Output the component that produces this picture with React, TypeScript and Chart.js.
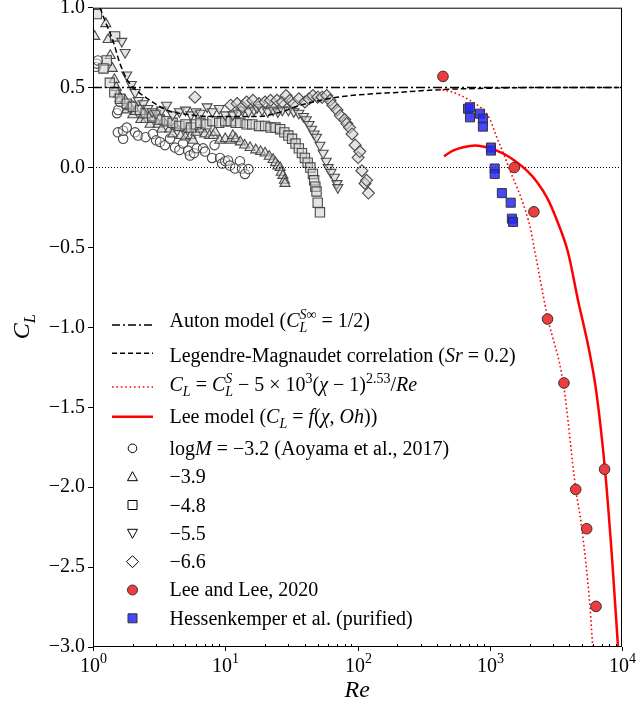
import React, { useEffect, useRef } from "react";
import { Chart, registerables } from "chart.js";

Chart.register(...registerables);

type Pt = [number, number];

// ---------------- data ----------------
const autonRe = [1, 10000];
const autonCL = [0.5, 0.5];

const zeroRe = [1, 10000];
const zeroCL = [0, 0];

const lmRe = [1.13, 1.23, 1.42, 1.6, 1.84, 2.15, 2.7, 3.6, 5.4, 8, 11, 18, 27, 37, 52, 70, 124, 200, 300, 500, 843, 2000, 10000];
const lmCL = [1.0, 0.92, 0.79, 0.65, 0.54, 0.48, 0.42, 0.36, 0.33, 0.32, 0.32, 0.32, 0.35, 0.39, 0.42, 0.44, 0.46, 0.47, 0.48, 0.49, 0.495, 0.5, 0.5];

const corrRe = [408, 531, 709, 894, 1005, 1129, 1268, 1423, 1599, 1795, 2015, 2198, 2743, 3598, 4467, 4955, 5730, 6000];
const corrCL = [0.49, 0.47, 0.42, 0.36, 0.3, 0.19, 0.09, -0.02, -0.12, -0.23, -0.37, -0.53, -0.94, -1.35, -2.01, -2.25, -2.75, -3.0];

const leeModelRe = [451, 527, 630, 773, 946, 1129, 1346, 1599, 1910, 2275, 2717, 3220, 3906, 4649, 5630, 6360, 7437, 8402, 9328];
const leeModelCL = [0.07, 0.106, 0.127, 0.1375, 0.127, 0.106, 0.075, 0.033, -0.02, -0.09, -0.19, -0.33, -0.53, -0.83, -1.14, -1.39, -1.89, -2.44, -3.0];

const leeLeeRe = [443, 1534, 2157, 2735, 3640, 4467, 5408, 6360, 7384];
const leeLeeCL = [0.57, 0.0, -0.277, -0.948, -1.348, -2.014, -2.26, -2.746, -1.8875];

const hessRe = [685, 709, 709, 844, 888, 888, 1022, 1022, 1090, 1090, 1235, 1440, 1470, 1500];
const hessCL = [0.368, 0.377, 0.314, 0.337, 0.306, 0.256, 0.125, 0.106, -0.006, -0.04, -0.16, -0.22, -0.32, -0.34];

const aoyamaM32: Pt[] = [
  [1.05, 0.63], [1.07, 0.65], [1.09, 0.67], [1.52, 0.34], [1.55, 0.36], [1.6, 0.41], [1.94, 0.39],
  [1.54, 0.22], [1.69, 0.18], [1.69, 0.23], [1.8, 0.25], [2.08, 0.22], [2.19, 0.2], [2.5, 0.19],
  [2.84, 0.21], [3.0, 0.17], [3.21, 0.16], [3.5, 0.14], [3.82, 0.18], [4.17, 0.125], [4.5, 0.11],
  [4.8, 0.15], [5.23, 0.106], [5.41, 0.075], [5.8, 0.09], [6.1, 0.12], [6.8, 0.12], [7.03, 0.1],
  [7.95, 0.06], [8.3, 0.14], [9.13, 0.06], [9.46, 0.025], [10.0, 0.04], [10.5, 0.044], [10.86, 0.0125],
  [11.85, -0.006], [12.9, 0.04], [13.4, -0.006], [14.1, -0.04], [15.0, -0.01],
];

const aoyamaM39: Pt[] = [
  [1.03, 0.82], [1.25, 0.9], [1.3, 0.8], [1.35, 0.7], [1.4, 0.62], [1.45, 0.55], [1.5, 0.5], [1.55, 0.46],
  [1.6, 0.43], [1.75, 0.42], [1.8, 0.36], [1.9, 0.38], [2.0, 0.33], [2.1, 0.35], [2.3, 0.3], [2.4, 0.33],
  [2.5, 0.3], [2.7, 0.27], [2.8, 0.3], [3.1, 0.27], [3.3, 0.24], [3.4, 0.29], [3.8, 0.24], [4.0, 0.21],
  [4.2, 0.26], [4.6, 0.2], [5.0, 0.19], [5.2, 0.24], [5.5, 0.2], [5.7, 0.17], [6.0, 0.22], [6.5, 0.24],
  [7.0, 0.21], [7.6, 0.2], [8.1, 0.2], [8.4, 0.22], [9.1, 0.17], [10, 0.18], [11, 0.17], [11.4, 0.2],
  [12, 0.18], [13, 0.16], [14, 0.14], [15.4, 0.125], [17, 0.11], [18.5, 0.1], [20, 0.09], [21.5, 0.07],
  [23, 0.05], [24, 0.03], [25, 0.01], [26, 0], [26.5, -0.03], [27.3, -0.05], [28, -0.08], [28.3, -0.1],
];

const aoyamaM48: Pt[] = [
  [1.07, 0.96], [1.47, 0.82], [1.27, 0.67], [1.2, 0.62], [1.34, 0.53], [1.45, 0.47], [1.6, 0.43], [1.8, 0.4],
  [2.0, 0.38], [2.27, 0.36], [2.5, 0.34], [2.8, 0.32], [3.2, 0.3], [3.6, 0.29], [4.0, 0.28], [4.5, 0.26],
  [5.0, 0.27], [5.5, 0.25], [6.0, 0.27], [6.5, 0.28], [7.2, 0.27], [8, 0.29], [9, 0.28], [10, 0.29],
  [11, 0.29], [12, 0.28], [13, 0.28], [14.5, 0.27], [16, 0.27], [18, 0.26], [20, 0.26], [22, 0.25],
  [24, 0.25], [26, 0.24], [28, 0.22], [30, 0.2], [32, 0.18], [34, 0.15], [36, 0.12], [38, 0.09],
  [40, 0.06], [42, 0.03], [44, 0], [46, -0.04], [47, -0.08], [48, -0.12], [49, -0.15], [50, -0.22], [52, -0.28],
];

const aoyamaM55: Pt[] = [
  [1.65, 0.79], [1.75, 0.72], [1.8, 0.58], [1.95, 0.52], [2.08, 0.47], [2.2, 0.42], [2.4, 0.4], [2.6, 0.37],
  [2.8, 0.35], [3.0, 0.34], [3.3, 0.36], [3.6, 0.39], [4.0, 0.33], [4.5, 0.35], [5.0, 0.36], [5.5, 0.33],
  [6.0, 0.35], [6.5, 0.34], [7.3, 0.38], [8.0, 0.35], [9, 0.37], [10, 0.33], [11.4, 0.33], [12.5, 0.34],
  [13.5, 0.36], [15, 0.35], [16.5, 0.36], [17.4, 0.375], [19, 0.36], [21, 0.35], [23, 0.36], [25, 0.35],
  [27, 0.36], [30, 0.36], [33, 0.35], [36, 0.34], [39, 0.32], [41, 0.3], [43, 0.27], [45, 0.24],
  [47, 0.21], [49, 0.19], [52, 0.14], [55, 0.09], [58, 0.04], [60, 0], [63, -0.03], [67, -0.06], [70, -0.1], [71, -0.125],
];

const aoyamaM66: Pt[] = [
  [5.9, 0.44], [11, 0.39], [12.3, 0.4], [13.5, 0.38], [14.5, 0.41], [16.2, 0.42], [18, 0.4], [20, 0.41],
  [22, 0.42], [24.6, 0.42], [27, 0.41], [28.8, 0.45], [30.8, 0.42], [33, 0.4], [36, 0.43], [40, 0.41],
  [43, 0.43], [46, 0.45], [50, 0.44], [54, 0.44], [58.5, 0.45], [62, 0.42], [65, 0.39], [70, 0.36],
  [74, 0.325], [80, 0.3], [83, 0.275], [87, 0.25], [91, 0.21], [96, 0.14], [101, 0.0625], [104, 0.1],
  [108, -0.02], [114, -0.1], [117, -0.08], [121, -0.16],
];

const xDecades = [0, 1, 2, 3, 4];
const yTickStep = 0.5;

type Seg = { t: string; it?: boolean; pos?: "sup" | "sub"; stack?: boolean };
const legendLabels: Seg[][] = [
  [{ t: "Auton model (" }, { t: "C", it: true }, { t: "S∞", it: true, pos: "sup", stack: true }, { t: "L", it: true, pos: "sub" }, { t: " = 1/2)" }],
  [{ t: "Legendre-Magnaudet correlation (" }, { t: "Sr", it: true }, { t: " = 0.2)" }],
  [
    { t: "C", it: true }, { t: "L", it: true, pos: "sub" }, { t: " = " }, { t: "C", it: true },
    { t: "S", it: true, pos: "sup", stack: true }, { t: "L", it: true, pos: "sub" }, { t: " − 5 × 10" },
    { t: "3", pos: "sup" }, { t: "(" }, { t: "χ", it: true }, { t: " − 1)" }, { t: "2.53", pos: "sup" },
    { t: "/" }, { t: "Re", it: true },
  ],
  [
    { t: "Lee model (" }, { t: "C", it: true }, { t: "L", it: true, pos: "sub" }, { t: " = " }, { t: "f", it: true },
    { t: "(" }, { t: "χ", it: true }, { t: ", " }, { t: "Oh", it: true }, { t: "))" },
  ],
  [{ t: "log" }, { t: "M", it: true }, { t: " = −3.2 (Aoyama et al., 2017)" }],
  [{ t: "−3.9" }],
  [{ t: "−4.8" }],
  [{ t: "−5.5" }],
  [{ t: "−6.6" }],
  [{ t: "Lee and Lee, 2020" }],
  [{ t: "Hessenkemper et al. (purified)" }],
];
const legendHandles = ["dashdot", "dash", "dot", "solid", "circle", "triangle", "square", "tridown", "diamond", "red", "blue"];

// ---------------- styling / drawing helpers ----------------
const SERIF = '"Liberation Serif", "Times New Roman", serif';
const GRAY_EDGE = "#4a4a4a";
const GRAY_FILL = "rgba(205,205,205,0.55)";
const RED = "#ff0000";
const RED_FILL = "#f03c3c";
const BLUE_FILL = "rgba(40,40,250,0.85)";

function drawRich(ctx: CanvasRenderingContext2D, segs: Seg[], x: number, y: number, size: number) {
  let cx = x;
  let pending = 0;
  ctx.textAlign = "left";
  ctx.textBaseline = "alphabetic";
  for (const s of segs) {
    const fs = s.pos ? size * 0.7 : size;
    ctx.font = `${s.it ? "italic " : ""}${fs}px ${SERIF}`;
    const dy = s.pos === "sup" ? -size * 0.42 : s.pos === "sub" ? size * 0.24 : 0;
    ctx.fillText(s.t, cx, y + dy);
    const w = ctx.measureText(s.t).width;
    if (s.stack) pending = w;
    else {
      cx += Math.max(w, pending);
      pending = 0;
    }
  }
}

function legendMarker(ctx: CanvasRenderingContext2D, kind: string, x: number, y: number) {
  ctx.save();
  ctx.setLineDash([]);
  ctx.lineWidth = 1;
  ctx.strokeStyle = "#000";
  ctx.fillStyle = "#fff";
  ctx.beginPath();
  if (kind === "circle") ctx.arc(x, y, 4.3, 0, Math.PI * 2);
  else if (kind === "triangle") {
    ctx.moveTo(x, y - 5); ctx.lineTo(x + 5, y + 4); ctx.lineTo(x - 5, y + 4); ctx.closePath();
  } else if (kind === "tridown") {
    ctx.moveTo(x, y + 5); ctx.lineTo(x + 5, y - 4); ctx.lineTo(x - 5, y - 4); ctx.closePath();
  } else if (kind === "square") ctx.rect(x - 4.5, y - 4.5, 9, 9);
  else if (kind === "diamond") {
    ctx.moveTo(x, y - 6); ctx.lineTo(x + 6, y); ctx.lineTo(x, y + 6); ctx.lineTo(x - 6, y); ctx.closePath();
  } else if (kind === "red") {
    ctx.arc(x, y, 5, 0, Math.PI * 2);
    ctx.fillStyle = RED_FILL; ctx.strokeStyle = "#333";
  } else if (kind === "blue") {
    ctx.rect(x - 4.5, y - 4.5, 9, 9);
    ctx.fillStyle = BLUE_FILL; ctx.strokeStyle = "#333";
  }
  ctx.fill();
  ctx.stroke();
  ctx.restore();
}

function legendLine(ctx: CanvasRenderingContext2D, kind: string, x0: number, x1: number, y: number) {
  ctx.save();
  ctx.beginPath();
  ctx.moveTo(x0, y);
  ctx.lineTo(x1, y);
  if (kind === "dashdot") { ctx.strokeStyle = "#000"; ctx.lineWidth = 1.5; ctx.setLineDash([8, 3, 2, 3]); }
  if (kind === "dash") { ctx.strokeStyle = "#000"; ctx.lineWidth = 1.5; ctx.setLineDash([5, 3]); }
  if (kind === "dot") { ctx.strokeStyle = RED; ctx.lineWidth = 1.6; ctx.setLineDash([1.6, 2.8]); }
  if (kind === "solid") { ctx.strokeStyle = RED; ctx.lineWidth = 2.5; ctx.setLineDash([]); }
  ctx.stroke();
  ctx.restore();
}

const decorPlugin = {
  id: "decor",
  afterDraw(chart: any) {
    const { ctx, chartArea: a, scales } = chart;
    const xs = scales.x;
    ctx.save();
    // frame
    ctx.strokeStyle = "#000";
    ctx.lineWidth = 1;
    ctx.setLineDash([]);
    ctx.strokeRect(a.left + 0.5, a.top + 0.5, a.right - a.left - 1, a.bottom - a.top - 1);

    // x ticks and labels
    ctx.fillStyle = "#000";
    for (const d of xDecades) {
      const px = Math.round(xs.getPixelForValue(Math.pow(10, d))) + 0.5;
      ctx.beginPath();
      ctx.moveTo(px, a.bottom);
      ctx.lineTo(px, a.bottom + 4);
      ctx.stroke();
      ctx.font = `20px ${SERIF}`;
      const w10 = ctx.measureText("10").width;
      ctx.font = `14px ${SERIF}`;
      const ws = ctx.measureText(String(d)).width;
      const x0 = px - (w10 + ws) / 2;
      ctx.textAlign = "left";
      ctx.textBaseline = "alphabetic";
      ctx.font = `20px ${SERIF}`;
      ctx.fillText("10", x0, 672);
      ctx.font = `14px ${SERIF}`;
      ctx.fillText(String(d), x0 + w10, 663);
      if (d < 4) {
        for (let k = 2; k <= 9; k++) {
          const mx = Math.round(xs.getPixelForValue(k * Math.pow(10, d))) + 0.5;
          ctx.beginPath();
          ctx.moveTo(mx, a.bottom);
          ctx.lineTo(mx, a.bottom - 3);
          ctx.stroke();
        }
      }
    }

    // axis titles
    drawRich(ctx, [{ t: "Re", it: true }], (a.left + a.right) / 2 - 13, 697, 24);
    ctx.save();
    ctx.translate(29, (a.top + a.bottom) / 2 + 12);
    ctx.rotate(-Math.PI / 2);
    drawRich(ctx, [{ t: "C", it: true }, { t: "L", it: true, pos: "sub" }], 0, 0, 24);
    ctx.restore();

    // legend
    const handleY = [325, 353.3, 387, 416.7, 448.3, 476.7, 505, 533.3, 561.7, 590, 618.3];
    const baseY = [327, 361.5, 391, 423, 454.5, 483, 511.5, 539.5, 567.5, 596, 624.5];
    legendLabels.forEach((segs, i) => {
      const kind = legendHandles[i];
      if (["dashdot", "dash", "dot", "solid"].includes(kind)) legendLine(ctx, kind, 112, 153, handleY[i]);
      else legendMarker(ctx, kind, 132.5, handleY[i]);
      ctx.fillStyle = "#000";
      drawRich(ctx, segs, 169.5, baseY[i], 20);
    });
    ctx.restore();
  },
};

export default function App() {
  const ref = useRef<HTMLCanvasElement>(null);
  useEffect(() => {
    const canvas = ref.current;
    if (!canvas) return;
    const xy = (xsArr: number[], ysArr: number[]) => xsArr.map((x, i) => ({ x, y: ysArr[i] }));
    const pts = (p: Pt[]) => p.map(([x, y]) => ({ x, y }));
    const lineDs = (data: any, color: string, width: number, dash: number[]) => ({
      data,
      showLine: true,
      pointRadius: 0,
      borderColor: color,
      borderWidth: width,
      borderDash: dash,
      backgroundColor: "transparent",
      cubicInterpolationMode: "monotone" as const,
      fill: false,
    });
    const grayDs = (data: any, style: string, radius: number, extra: any = {}) => ({
      data,
      showLine: false,
      pointStyle: style,
      pointRadius: radius,
      pointBorderColor: GRAY_EDGE,
      pointBackgroundColor: GRAY_FILL,
      pointBorderWidth: 1.1,
      ...extra,
    });

    const chart = new Chart(canvas, {
      type: "scatter",
      data: {
        datasets: [
          {
            data: xy(hessRe, hessCL), showLine: false, pointStyle: "rect", pointRadius: 6.4,
            pointBackgroundColor: BLUE_FILL, pointBorderColor: "#333", pointBorderWidth: 1,
          },
          {
            data: xy(leeLeeRe, leeLeeCL), showLine: false, pointStyle: "circle", pointRadius: 5.3,
            pointBackgroundColor: RED_FILL, pointBorderColor: "#333", pointBorderWidth: 1,
          },
          lineDs(xy(leeModelRe, leeModelCL), RED, 2.5, []),
          lineDs(xy(corrRe, corrCL), RED, 1.6, [1.6, 2.6]),
          lineDs(xy(lmRe, lmCL), "#000", 1.5, [5.5, 3]),
          lineDs(xy(autonRe, autonCL), "#000", 1.5, [9, 3, 2, 3]),
          lineDs(xy(zeroRe, zeroCL), "#000", 1, [1, 2]),
          grayDs(pts(aoyamaM66), "rectRot", 6),
          grayDs(pts(aoyamaM55), "triangle", 5.8, { pointRotation: 180 }),
          grayDs(pts(aoyamaM48), "rect", 6.6),
          grayDs(pts(aoyamaM39), "triangle", 5.8),
          grayDs(pts(aoyamaM32), "circle", 4.7, { pointBackgroundColor: "rgba(255,255,255,0.4)" }),
        ] as any,
      },
      options: {
        responsive: false,
        animation: false,
        events: [],
        layout: { padding: { left: 0, right: 15, top: 7, bottom: 0 } },
        plugins: { legend: { display: false }, tooltip: { enabled: false } },
        scales: {
          x: {
            type: "logarithmic",
            min: 1,
            max: 10000,
            ticks: { display: false },
            grid: { display: false },
            border: { display: false },
            afterFit: (s: any) => {
              s.height = 59;
              s.paddingLeft = 0;
              s.paddingRight = 0;
            },
          },
          y: {
            type: "linear",
            min: -3,
            max: 1,
            ticks: {
              stepSize: yTickStep,
              color: "#000",
              padding: 3,
              font: { family: SERIF, size: 20 },
              callback: (v: any) => (v < 0 ? "−" : "") + Math.abs(Number(v)).toFixed(1),
            },
            grid: { display: true, drawOnChartArea: false, drawTicks: true, tickLength: 5, color: "#000" },
            border: { display: false },
            afterFit: (s: any) => {
              s.width = 93;
              s.paddingTop = 0;
              s.paddingBottom = 0;
            },
          },
        },
      } as any,
      plugins: [decorPlugin],
    });
    return () => chart.destroy();
  }, []);

  return (
    <div style={{ position: "absolute", left: 0, top: 0, width: 637, height: 706, background: "#fff" }}>
      <canvas ref={ref} width={637} height={706} style={{ display: "block" }} />
    </div>
  );
}
